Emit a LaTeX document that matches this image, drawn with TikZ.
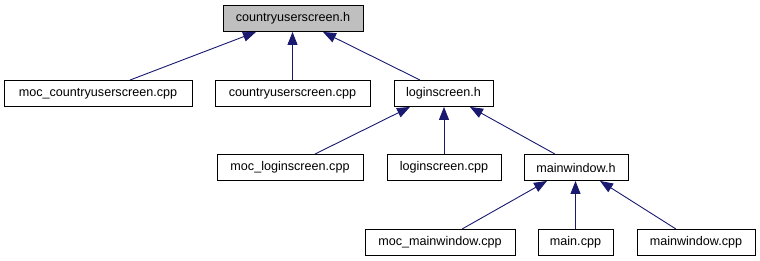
\documentclass[tikz,border=0pt]{standalone}
\usepackage{fontspec}
\setmainfont{Liberation Sans}
\usetikzlibrary{arrows.meta}
\definecolor{edgeblue}{HTML}{191970}
\definecolor{rootgray}{HTML}{BFBFBF}
\begin{document}
\begin{tikzpicture}[x=1pt,y=-1pt,
  filebox/.style={draw=black, line width=0.9pt, rectangle, minimum height=26pt,
    inner sep=0pt, font=\fontsize{12.6}{15}\selectfont},
  dep/.style={draw=edgeblue, line width=0.9pt,
    -{Triangle[length=13pt,width=10pt]}, shorten >=0pt}]
\useasboundingbox (0,0) rectangle (760,261);

% headers and sources
\node[filebox, fill=rootgray, minimum width=140pt] (cuh)   at (293,18.5)   {countryuserscreen.h};
\node[filebox, minimum width=188pt] (moccu)  at (98,93.5)    {moc\_countryuserscreen.cpp};
\node[filebox, minimum width=155pt] (cucpp)  at (292.5,93.5) {countryuserscreen.cpp};
\node[filebox, minimum width=99pt]  (lsh)    at (443.5,93.5) {loginscreen.h};
\node[filebox, minimum width=146pt] (mocls)  at (290,167.5)  {moc\_loginscreen.cpp};
\node[filebox, minimum width=114pt] (lscpp)  at (444,167.5)  {loginscreen.cpp};
\node[filebox, minimum width=104pt] (mwh)    at (576,167.5)  {mainwindow.h};
\node[filebox, minimum width=150pt] (mocmw)  at (440,242.5)  {moc\_mainwindow.cpp};
\node[filebox, minimum width=75pt]  (maincpp) at (575.5,242.5) {main.cpp};
\node[filebox, minimum width=118pt] (mwcpp)  at (696,242.5)  {mainwindow.cpp};

% include dependencies (arrow points to the included header)
\draw[dep] ([xshift=32pt]moccu.north)   -- ([xshift=-37pt]cuh.south);
\draw[dep] (cucpp.north)                -- (cucpp.north |- cuh.south);
\draw[dep] ([xshift=-23.5pt]lsh.north)  -- ([xshift=30pt]cuh.south);
\draw[dep] ([xshift=25pt]mocls.north)   -- ([xshift=-33.5pt]lsh.south);
\draw[dep] (lscpp.north)                -- (lscpp.north |- lsh.south);
\draw[dep] ([xshift=-21pt]mwh.north)    -- ([xshift=26.5pt]lsh.south);
\draw[dep] ([xshift=22pt]mocmw.north)   -- ([xshift=-29pt]mwh.south);
\draw[dep] (maincpp.north)              -- (maincpp.north |- mwh.south);
\draw[dep] ([xshift=-20pt]mwcpp.north)  -- ([xshift=24pt]mwh.south);
\end{tikzpicture}
\end{document}
